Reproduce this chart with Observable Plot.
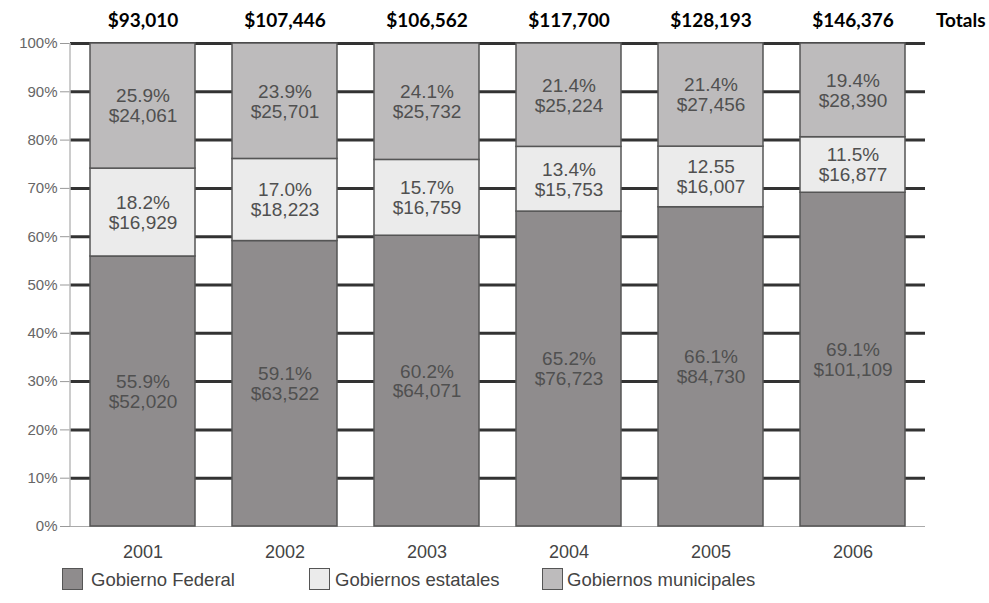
<!DOCTYPE html>
<html>
<head>
<meta charset="utf-8">
<script src="https://cdn.jsdelivr.net/npm/d3@7"></script>
<script src="https://cdn.jsdelivr.net/npm/@observablehq/plot@0.6"></script>
<style>
  html, body { margin: 0; padding: 0; background: #fff; }
  #wrap { position: relative; width: 989px; height: 603px; font-family: "Liberation Sans", Arial, sans-serif; }
  #legend { position: relative; width: 989px; height: 41px; }
  .sw { position: absolute; width: 21px; height: 22px; box-sizing: border-box; border: 1.5px solid #555; }
  .lt { position: absolute; font-size: 18.5px; color: #444; line-height: 22px; }
</style>
</head>
<body>
<div id="wrap">
  <div id="chart"></div>
  <div id="legend"></div>
</div>
<script>
// ---- data ----
const years = ["2001", "2002", "2003", "2004", "2005", "2006"];
const series = ["Gobierno Federal", "Gobiernos estatales", "Gobiernos municipales"];
const federalPct = [55.9, 59.1, 60.2, 65.2, 66.1, 69.1];
const federalPctLabels = ["55.9%", "59.1%", "60.2%", "65.2%", "66.1%", "69.1%"];
const federalAmt = [52020, 63522, 64071, 76723, 84730, 101109];
const estatalPct = [18.2, 17.0, 15.7, 13.4, 12.55, 11.5];
const estatalPctLabels = ["18.2%", "17.0%", "15.7%", "13.4%", "12.55", "11.5%"];
const estatalAmt = [16929, 18223, 16759, 15753, 16007, 16877];
const municipalPct = [25.9, 23.9, 24.1, 21.4, 21.4, 19.4];
const municipalPctLabels = ["25.9%", "23.9%", "24.1%", "21.4%", "21.4%", "19.4%"];
const municipalAmt = [24061, 25701, 25732, 25224, 27456, 28390];
const totals = [93010, 107446, 106562, 117700, 128193, 146376];
const yTicks = [0, 10, 20, 30, 40, 50, 60, 70, 80, 90, 100];
const colors = ["#8f8c8d", "#ebebeb", "#bdbbbc"];

const fmt = d3.format(",");
const rows = [];
years.forEach((yr, i) => {
  rows.push({year: yr, series: series[0], pct: federalPct[i], label: federalPctLabels[i] + "\n$" + fmt(federalAmt[i])});
  rows.push({year: yr, series: series[1], pct: estatalPct[i], label: estatalPctLabels[i] + "\n$" + fmt(estatalAmt[i])});
  rows.push({year: yr, series: series[2], pct: municipalPct[i], label: municipalPctLabels[i] + "\n$" + fmt(municipalAmt[i])});
});
const totalRows = years.map((yr, i) => ({year: yr, total: totals[i]}));

const W = 989, H = 562;
const mL = 70, mR = 64, mT = 43, mB = 36;

const chart = Plot.plot({
  width: W,
  height: H,
  marginLeft: mL,
  marginRight: mR,
  marginTop: mT,
  marginBottom: mB,
  style: {fontFamily: "'Liberation Sans', Arial, sans-serif", background: "#fff", color: "#555", overflow: "visible"},
  x: {domain: years, paddingInner: 0.26, paddingOuter: 0.126, label: null},
  y: {domain: [0, 100], label: null},
  color: {domain: series, range: colors},
  marks: [
    Plot.ruleY(yTicks.filter(d => d > 0), {y: d => d, stroke: "#333", strokeWidth: 3}),
    Plot.ruleY([0], {stroke: "#aaa", strokeWidth: 1.2}),
    Plot.barY(rows, Plot.stackY({
      x: "year", y: "pct", z: "series", fill: "series",
      order: series, stroke: "#555", strokeWidth: 1.5
    })),
    Plot.text(rows, Plot.stackY({
      x: "year", y: "pct", z: "series", order: series,
      text: "label", fill: "#505050", fontSize: 19, lineHeight: 1.05
    })),
    Plot.text(totalRows, {
      x: "year", y: () => 100, text: d => "$" + fmt(d.total),
      dy: -23, fill: "#000", fontSize: 19, fontWeight: "bold",
      fontFamily: "Lato, 'Open Sans', sans-serif", style: "letter-spacing:0.8px"
    }),
    Plot.text(["Totals"], {
      frameAnchor: "top-right", text: d => d, dx: 60, dy: -23,
      textAnchor: "end", lineAnchor: "middle",
      fill: "#000", fontSize: 19, fontWeight: "bold",
      fontFamily: "Lato, 'Open Sans', sans-serif"
    }),
    Plot.axisY({ticks: yTicks, tickFormat: d => d + "%", tickSize: 10, tickPadding: 3,
      fontSize: 15, stroke: "#999", fill: "#666"}),
    Plot.axisX({tickSize: 0, tickPadding: 18.5, fontSize: 18, fill: "#444"})
  ]
});
document.getElementById("chart").appendChild(chart);

// vertical y-axis line at the left edge of the frame
d3.select(chart).append("line")
  .attr("x1", mL).attr("x2", mL)
  .attr("y1", mT).attr("y2", H - mB)
  .attr("stroke", "#bbb").attr("stroke-width", 1.5);

// legend
const legend = d3.select("#legend");
const swX = [62, 309, 542];
const txX = [91, 335, 567];
series.forEach((s, i) => {
  legend.append("div").attr("class", "sw")
    .style("left", swX[i] + "px").style("top", "6px")
    .style("background", colors[i]);
  legend.append("div").attr("class", "lt")
    .style("left", txX[i] + "px").style("top", "7px")
    .text(s);
});
</script>
</body>
</html>
